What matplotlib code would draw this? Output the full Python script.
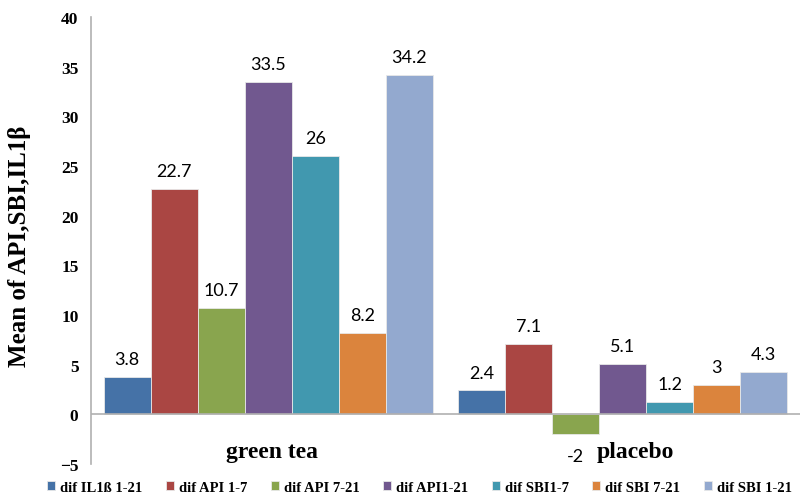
import matplotlib
matplotlib.use('Agg')
import matplotlib.pyplot as plt
import numpy as np

groups = ['green tea', 'placebo']
series = ['dif IL1ß 1-21', 'dif API 1-7', 'dif API 7-21', 'dif API1-21',
          'dif SBI1-7', 'dif SBI 7-21', 'dif SBI 1-21']
green_tea = [3.8, 22.7, 10.7, 33.5, 26, 8.2, 34.2]
placebo = [2.4, 7.1, -2, 5.1, 1.2, 3, 4.3]
colors = ['#4572A7', '#AA4643', '#89A54E', '#71588F', '#4198AF', '#DB843D', '#93A9CF']

serif = 'Liberation Serif'

fig = plt.figure(figsize=(8.02, 5.02), dpi=100)
ax = fig.add_axes([91 / 802, 37 / 502, 709 / 802, 447 / 502])

x = np.arange(len(groups))
w = 0.1326
for i, name in enumerate(series):
    vals = [green_tea[i], placebo[i]]
    pos = x + (i - 3) * w
    ax.bar(pos, vals, width=w, color=colors[i], edgecolor='#e8e8e8',
           linewidth=0.6, label=name)
    for p, v in zip(pos, vals):
        txt = ('%g' % v)
        if v >= 0:
            ax.text(p, v + 1.0, txt, ha='center', va='bottom',
                    fontsize=13, family='Lato')
        else:
            ax.text(p, v - 1.4, txt, ha='center', va='top',
                    fontsize=13, family='Lato')

ax.set_xlim(-0.5, 1.5)
ax.set_ylim(-5, 40)
ax.set_yticks(range(-5, 41, 5))
ax.tick_params(axis='y', length=0, pad=9)
ax.set_xticks([])
for lab in ax.get_yticklabels():
    lab.set_family(serif)
    lab.set_fontweight('bold')
    lab.set_fontsize(12.5)

ax.axhline(0, color='#b0b0b0', linewidth=1.2)
for s in ['top', 'right', 'bottom']:
    ax.spines[s].set_visible(False)
ax.spines['left'].set_color('#b0b0b0')
ax.spines['left'].set_linewidth(1.2)

ax.text(0.01, -4.3, groups[0], ha='center', va='baseline', fontsize=17,
        family=serif, fontweight='bold')
ax.text(1.035, -4.3, groups[1], ha='center', va='baseline', fontsize=17,
        family=serif, fontweight='bold')

fig.text(0.024, 0.51, 'Mean of API,SBI,IL1β', rotation=90, ha='center',
         va='center', fontsize=18, family=serif, fontweight='bold')

fig.legend(loc='lower center', bbox_to_anchor=(0.523, -0.012), ncol=7,
           frameon=False, handlelength=0.55, handleheight=0.55,
           handletextpad=0.35, columnspacing=1.6,
           prop={'family': serif, 'weight': 'bold', 'size': 10.5})

fig.savefig('out.png', dpi=100)
